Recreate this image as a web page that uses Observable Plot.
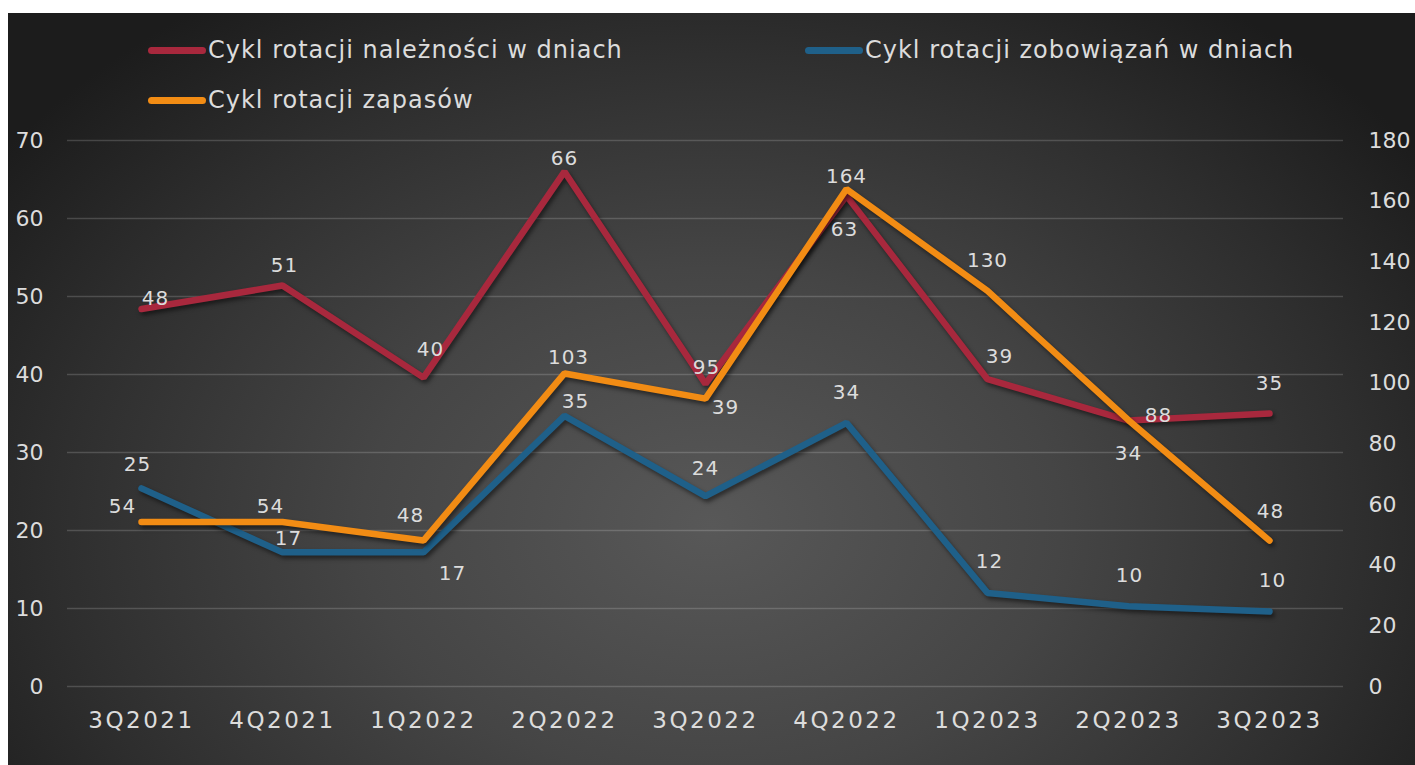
<!DOCTYPE html>
<html>
<head>
<meta charset="utf-8">
<script src="https://cdn.jsdelivr.net/npm/d3@7"></script>
<script src="https://cdn.jsdelivr.net/npm/@observablehq/plot@0.6"></script>
<style>
  html, body { margin: 0; padding: 0; background: #ffffff; }
  #frame {
    position: absolute; left: 8px; top: 13px; width: 1407px; height: 752px;
    background: radial-gradient(ellipse 62% 85% at 50% 68%, #585858 0%, #454545 40%, #2e2e2e 75%, #1c1c1c 100%);
    overflow: hidden;
    font-family: "DejaVu Sans", sans-serif;
    color: #dcdcdc;
  }
  #legend { position: relative; height: 115px; }
  .item { position: absolute; display: flex; align-items: center; font-size: 24px; letter-spacing: 1px; white-space: nowrap; }
  .sw { width: 58px; height: 7px; border-radius: 4px; margin-right: 2px; }
  #chart g[aria-label="line"] path { filter: drop-shadow(2px 3px 2px rgba(0,0,0,0.5)); }
  #chart g[aria-label="x-axis tick label"] text { letter-spacing: 2.5px; }
  #chart g[aria-label="text"] text { letter-spacing: 1px; }
</style>
</head>
<body>
<div id="frame">
  <div id="legend"></div>
  <div id="chart"></div>
</div>
<script>
// ---- data ----
const quarters = ["3Q2021","4Q2021","1Q2022","2Q2022","3Q2022","4Q2022","1Q2023","2Q2023","3Q2023"];
const receivablesDays = [48.4, 51.4, 39.6, 66, 38.8, 62.9, 39.4, 34.1, 35];   // left axis
const payablesDays    = [25.4, 17.2, 17.2, 34.7, 24.4, 33.8, 12.0, 10.3, 9.6]; // left axis
const inventoryDays   = [54.2, 54.2, 48.1, 103.2, 94.9, 164, 130.4, 87.8, 48.1]; // right axis
const leftTicks  = [0, 10, 20, 30, 40, 50, 60, 70];
const rightTicks = [0, 20, 40, 60, 80, 100, 120, 140, 160, 180];
const seriesNames = ["Cykl rotacji należności w dniach", "Cykl rotacji zobowiązań w dniach", "Cykl rotacji zapasów"];

// ---- presentation ----
const colors = ["#a8283d", "#1f6089", "#f28c14"];
const leftMax = 70, rightMax = 180;
const toLeft = v => v * leftMax / rightMax;
// data label offsets [dx, dy] per point
const labelOffsets = [
  [[14,-10],[2,-20],[7,-28],[0,-13],[20,24],[-2,34],[12,-23],[0,33],[0,-30]],
  [[-4,-24],[6,-14],[29,21],[11,-14],[0,-28],[0,-30],[2,-31],[1,-31],[3,-31]],
  [[-19,-15],[-12,-15],[-13,-25],[4,-16],[1,-31],[0,-12],[0,-30],[30,-5],[1,-29]]
];

// ---- legend ----
const legend = document.getElementById("legend");
const legendPos = [[140, 37], [797, 37], [140, 87]];
seriesNames.forEach((name, i) => {
  const it = document.createElement("div");
  it.className = "item";
  it.style.left = legendPos[i][0] + "px";
  it.style.top = (legendPos[i][1] - 15) + "px";
  it.style.height = "30px";
  it.innerHTML = `<span class="sw" style="background:${colors[i]}"></span><span>${name}</span>`;
  legend.appendChild(it);
});

// ---- tables ----
const series = [receivablesDays, payablesDays, inventoryDays];
const tables = series.map((vals, s) => quarters.map((q, i) => ({
  q, v: vals[i], y: s === 2 ? toLeft(vals[i]) : vals[i], s, i
})));

const labelMarks = [];
tables.forEach((tbl, s) => {
  tbl.forEach(d => {
    const [dx, dy] = labelOffsets[s][d.i];
    labelMarks.push(Plot.text([d], {
      x: "q", y: "y", text: dd => String(Math.round(dd.v)),
      dx, dy, fill: "#dcdcdc", fontSize: 20
    }));
  });
});

const chart = Plot.plot({
  width: 1407,
  height: 637,
  marginTop: 12,
  marginBottom: 79,
  marginLeft: 59,
  marginRight: 72,
  style: { background: "transparent", color: "#dcdcdc", fontFamily: "DejaVu Sans, sans-serif", fontSize: "22px", overflow: "visible" },
  x: { type: "point", domain: quarters, padding: 0.5, label: null },
  y: { domain: [0, leftMax], label: null },
  marks: [
    Plot.gridY(leftTicks, { stroke: "#ffffff", strokeOpacity: 0.17, strokeWidth: 1.5 }),
    Plot.axisX({ tickSize: 0, tickPadding: 25, fontSize: 23, label: null }),
    Plot.axisY(leftTicks, { anchor: "left", tickSize: 0, tickPadding: 24, fontSize: 22, label: null }),
    Plot.axisY(rightTicks.map(toLeft), { anchor: "right", tickSize: 0, tickPadding: 25, fontSize: 22, label: null,
      tickFormat: d => String(Math.round(d * rightMax / leftMax)) }),
    ...tables.map((tbl, s) => Plot.line(tbl, { x: "q", y: "y", stroke: colors[s], strokeWidth: 6.5, strokeLinejoin: "miter", strokeLinecap: "round" })),
    ...labelMarks
  ]
});
document.getElementById("chart").appendChild(chart);
</script>
</body>
</html>
